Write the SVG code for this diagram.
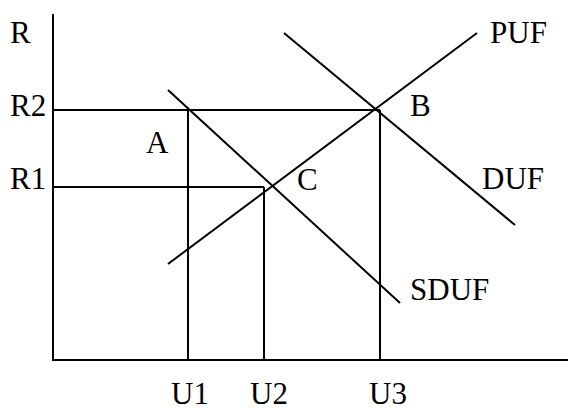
<svg xmlns="http://www.w3.org/2000/svg" width="568" height="412" viewBox="0 0 568 412">
<style>
line{stroke:#000;stroke-width:2;fill:none}
text{font-family:"Liberation Serif","Times New Roman",serif;font-size:31px;fill:#000}
</style>
<rect width="568" height="412" fill="#fff"/>
<g id="axes">
<line x1="53" y1="14" x2="53" y2="361"/>
<line x1="52" y1="360" x2="568" y2="360"/>
</g>
<g id="guides">
<line x1="53" y1="110" x2="380" y2="110"/>
<line x1="53" y1="187" x2="264" y2="187"/>
<line x1="188" y1="110" x2="188" y2="360"/>
<line x1="264" y1="187" x2="264" y2="360"/>
<line x1="380" y1="110" x2="380" y2="360"/>
</g>
<g id="curves">
<line id="PUF" x1="168" y1="264" x2="477" y2="33"/>
<line id="DUF" x1="284" y1="33" x2="515" y2="225"/>
<line id="SDUF" x1="168" y1="90" x2="400" y2="303"/>
</g>
<g id="labels">
<text x="10" y="43">R</text>
<text x="10" y="116">R2</text>
<text x="10" y="189">R1</text>
<text x="146" y="153">A</text>
<text x="410" y="116">B</text>
<text x="297" y="190">C</text>
<text x="490" y="43">PUF</text>
<text x="482" y="189">DUF</text>
<text x="410" y="300">SDUF</text>
<text x="171" y="404">U1</text>
<text x="250" y="404">U2</text>
<text x="369" y="404">U3</text>
</g>
</svg>
